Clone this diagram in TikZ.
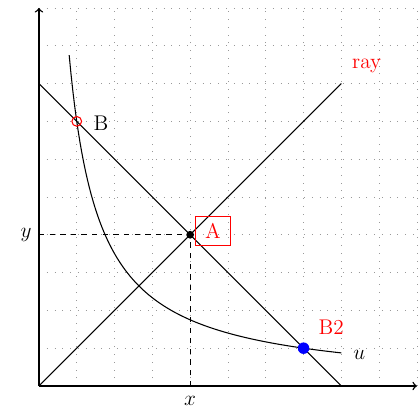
\documentclass[tikz,border=0pt,12pt]{standalone}
\usetikzlibrary{calc}
\begin{document}
\begin{tikzpicture}[x=0.75cm,y=0.75cm,
  axisline/.style={thick,->},
  curveline/.style={semithick,black},
  guide/.style={semithick,dashed},
  gridline/.style={loosely dotted,gray!80},
  redlbl/.style={text=red,anchor=base west},
  blacklbl/.style={text=black,anchor=base west}]
\useasboundingbox (-1.03,-0.63) rectangle (10.08,10.21);
\draw[gridline,step=1] (0,0) grid (10,10);
\coordinate (O) at (0,0);
\coordinate (X) at (10,0);
\coordinate (Y) at (0,10);
\coordinate (b1) at (0,8);
\coordinate (b2) at (8,0);
\coordinate (R) at (8,8);
\coordinate (A) at (4,4);
\coordinate (Ax) at (4,0);
\coordinate (Ay) at (0,4);
\draw[axisline] (O) -- (X);
\draw[axisline] (O) -- (Y);
\draw[curveline] (b1) -- (b2);
\draw[curveline] (O) -- (R);
\draw[curveline] plot[domain=0.8:8,samples=150] (\x,{7/\x});
\draw[guide] (Ay) -- (A);
\draw[guide] (Ax) -- (A);
\fill (A) circle (2.2pt);
\node[draw=red,text=red,anchor=west,inner xsep=5.5pt] (Albl) at (4.13,4.1) {A};
\node[circle,draw=red,semithick,inner sep=0pt,minimum size=5.5pt] (B) at (1,7) {};
\node[blacklbl] (Blbl) at (1.25,6.75) {B};
\node[circle,fill=blue,inner sep=0pt,minimum size=6.5pt] (B2) at (7,1) {};
\node[redlbl] (B2lbl) at (7.2,1.37) {B2};
\node[redlbl] (raylbl) at (8.09,8.41) {ray};
\node[blacklbl] (ulbl) at (8.12,0.70) {$u$};
\node[left] (ylbl) at (Ay) {$y$};
\node[below,yshift=-1.5pt] (xlbl) at (Ax) {$x$};
\end{tikzpicture}
\end{document}
